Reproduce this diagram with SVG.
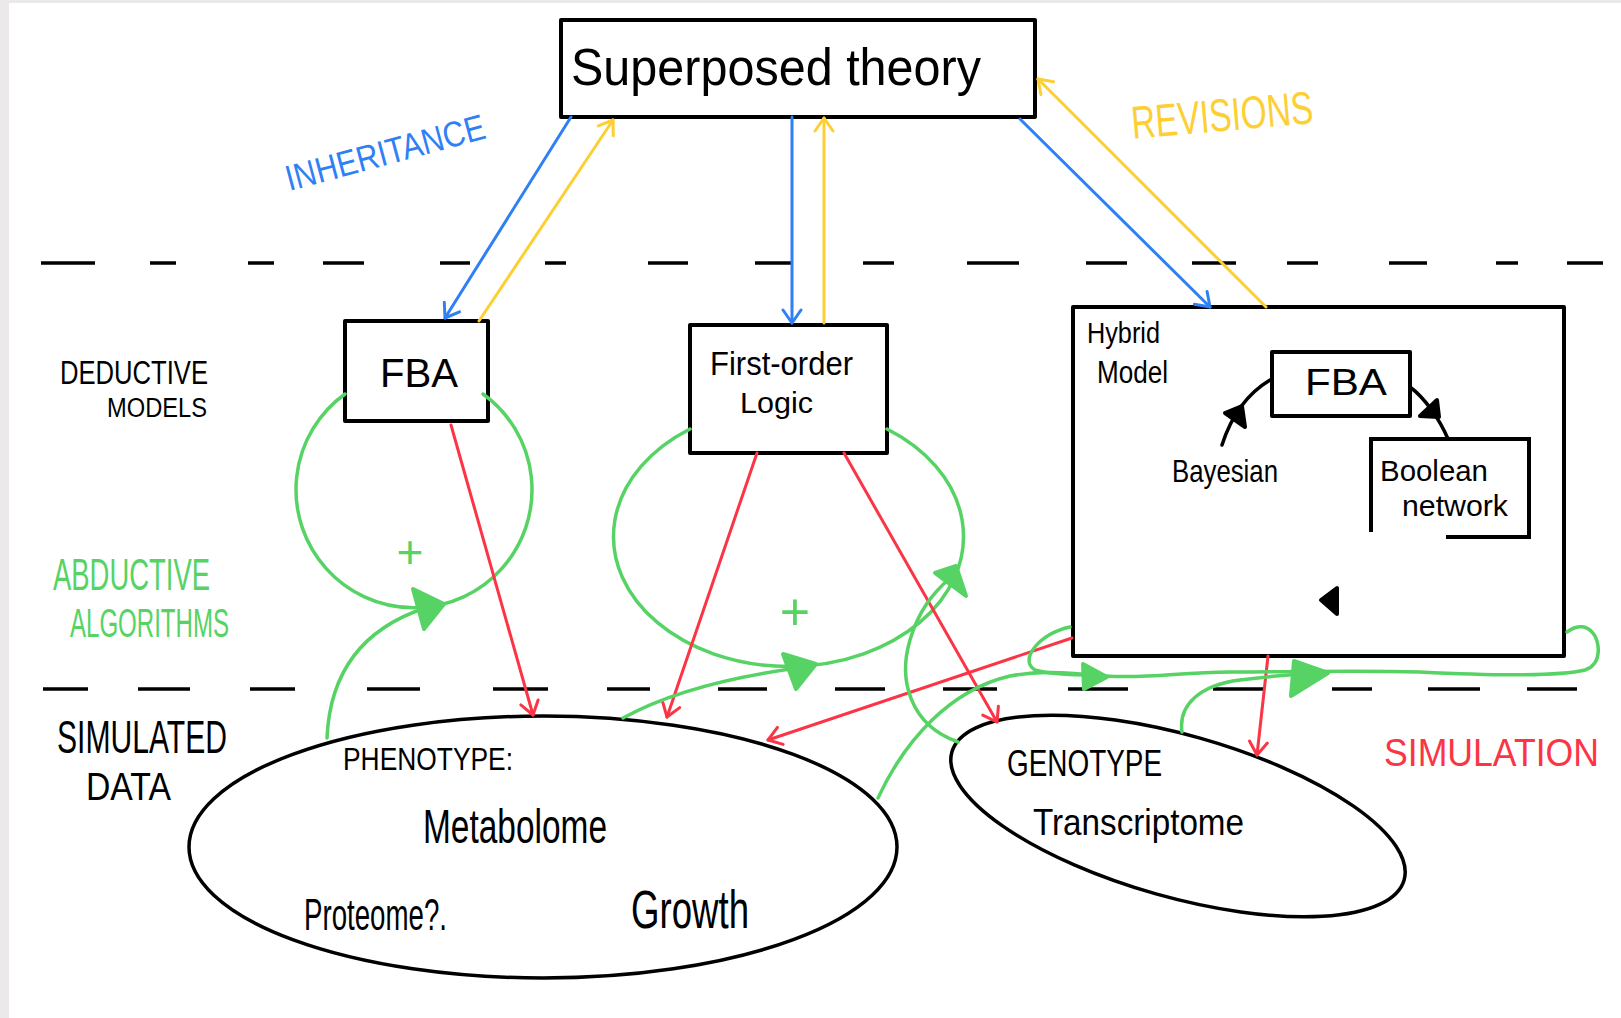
<svg xmlns="http://www.w3.org/2000/svg" width="1621" height="1018" viewBox="0 0 1621 1018">
<defs>
<style>
.box{fill:#fff;stroke:#000;stroke-width:4;stroke-linejoin:round}
.ell{fill:none;stroke:#000;stroke-width:3.5}
.t{font-family:"Liberation Sans",Arial,sans-serif;fill:#000}
.blue{stroke:#2f80f5;stroke-width:3;fill:none;stroke-linecap:round}
.yel{stroke:#fdcf33;stroke-width:3;fill:none;stroke-linecap:round}
.red{stroke:#fb3545;stroke-width:3;fill:none;stroke-linecap:round}
.grn{stroke:#56d364;stroke-width:3.5;fill:none;stroke-linecap:round}
.gtri{fill:#56d364;stroke:#56d364;stroke-width:4;stroke-linejoin:round}
.ktri{fill:#000;stroke:#000;stroke-width:4;stroke-linejoin:round}
.blk{stroke:#000;stroke-width:3.5;fill:none;stroke-linecap:round}
.dash{stroke:#000;stroke-width:3.5;fill:none}
</style>
<marker id="mb" markerUnits="userSpaceOnUse" markerWidth="30" markerHeight="30" viewBox="0 0 30 30" refX="15" refY="15" orient="auto"><path d="M2,6 L15,15 L2,24" fill="none" stroke="#2f80f5" stroke-width="3" stroke-linecap="round" stroke-linejoin="round"/></marker>
<marker id="my" markerUnits="userSpaceOnUse" markerWidth="30" markerHeight="30" viewBox="0 0 30 30" refX="15" refY="15" orient="auto"><path d="M2,6 L15,15 L2,24" fill="none" stroke="#fdcf33" stroke-width="3" stroke-linecap="round" stroke-linejoin="round"/></marker>
<marker id="mr" markerUnits="userSpaceOnUse" markerWidth="30" markerHeight="30" viewBox="0 0 30 30" refX="15" refY="15" orient="auto"><path d="M2,6 L15,15 L2,24" fill="none" stroke="#fb3545" stroke-width="3" stroke-linecap="round" stroke-linejoin="round"/></marker>
</defs>
<rect x="0" y="0" width="1621" height="1018" fill="#fff"/>
<rect x="0" y="0" width="9" height="1018" fill="#ece9ea"/>
<rect x="0" y="0" width="1621" height="3" fill="#ece9ea"/>

<g id="separators">
<path class="dash" d="M41,263H95M150,263H176M248,263H274M323,263H364M440,263H470M545,263H566M648,263H688M755,263H791M863,263H894M967,263H1019M1086,263H1127M1192,263H1236M1287,263H1318M1389,263H1427M1496,263H1518M1567,263H1603"/>
<path class="dash" d="M43,689H88M138,689H190M250,689H295M367,689H420M493,689H548M607,689H650M718,689H767M835,689H885M943,689H997M1068,689H1128M1213,689H1265M1332,689H1372M1428,689H1480M1527,689H1577"/>
</g>

<g id="labels">
<text class="t" x="60" y="384" font-size="33" textLength="148" lengthAdjust="spacingAndGlyphs">DEDUCTIVE</text>
<text class="t" x="107" y="417" font-size="27" textLength="100" lengthAdjust="spacingAndGlyphs">MODELS</text>
<text class="t" x="53" y="590" font-size="44" textLength="157" lengthAdjust="spacingAndGlyphs" style="fill:#56d364">ABDUCTIVE</text>
<text class="t" x="70" y="637" font-size="40" textLength="159" lengthAdjust="spacingAndGlyphs" style="fill:#56d364">ALGORITHMS</text>
<text class="t" x="57" y="753" font-size="46" textLength="170" lengthAdjust="spacingAndGlyphs">SIMULATED</text>
<text class="t" x="86" y="800" font-size="38" textLength="85" lengthAdjust="spacingAndGlyphs">DATA</text>
<text class="t" x="1384" y="766" font-size="38" textLength="215" lengthAdjust="spacingAndGlyphs" style="fill:#fb3545">SIMULATION</text>
<g transform="translate(385,152) rotate(-15)"><text class="t" x="0" y="13" font-size="36" text-anchor="middle" textLength="205" lengthAdjust="spacingAndGlyphs" style="fill:#2f80f5">INHERITANCE</text></g>
<g transform="translate(1222,114) rotate(-5)"><text class="t" x="0" y="17" font-size="46" text-anchor="middle" textLength="182" lengthAdjust="spacingAndGlyphs" style="fill:#fdcf33">REVISIONS</text></g>
<text class="t" x="410" y="568" font-size="46" text-anchor="middle" style="fill:#56d364">+</text>
<text class="t" x="795" y="630" font-size="52" text-anchor="middle" style="fill:#56d364">+</text>
</g>

<g id="superposed-theory">
<rect class="box" x="561" y="20" width="474" height="97"/>
<text class="t" x="571" y="85" font-size="52" textLength="410" lengthAdjust="spacingAndGlyphs">Superposed theory</text>
</g>

<g id="fba">
<rect class="box" x="345" y="321" width="143" height="100"/>
<text class="t" x="380" y="387" font-size="40" textLength="78" lengthAdjust="spacingAndGlyphs">FBA</text>
</g>

<g id="first-order-logic">
<rect class="box" x="690" y="325" width="197" height="128"/>
<text class="t" x="710" y="375" font-size="33" textLength="143" lengthAdjust="spacingAndGlyphs">First-order</text>
<text class="t" x="740" y="413" font-size="30" textLength="73" lengthAdjust="spacingAndGlyphs">Logic</text>
</g>

<g id="hybrid-model">
<rect class="box" x="1073" y="307" width="491" height="349"/>
<text class="t" x="1087" y="343" font-size="29" textLength="73" lengthAdjust="spacingAndGlyphs">Hybrid</text>
<text class="t" x="1097" y="383" font-size="31" textLength="71" lengthAdjust="spacingAndGlyphs">Model</text>
</g>

<g id="bayesian">
<text class="t" x="1172" y="482" font-size="32" textLength="106" lengthAdjust="spacingAndGlyphs">Bayesian</text>
</g>

<g id="hybrid-fba">
<rect class="box" x="1272" y="352" width="138" height="64"/>
<text class="t" x="1305" y="395" font-size="37" textLength="82" lengthAdjust="spacingAndGlyphs">FBA</text>
</g>

<g id="boolean-network">
<path class="blk" style="stroke-width:4;stroke-linecap:butt" d="M1371,532 L1371,439 L1529,439 L1529,537 L1446,537"/>
<text class="t" x="1380" y="481" font-size="30" textLength="108" lengthAdjust="spacingAndGlyphs">Boolean</text>
<text class="t" x="1402" y="516" font-size="30" textLength="106" lengthAdjust="spacingAndGlyphs">network</text>
</g>

<g id="phenotype">
<ellipse class="ell" cx="543" cy="847" rx="354" ry="131"/>
<text class="t" x="343" y="770" font-size="31" textLength="170" lengthAdjust="spacingAndGlyphs">PHENOTYPE:</text>
<text class="t" x="423" y="843" font-size="48" textLength="184" lengthAdjust="spacingAndGlyphs">Metabolome</text>
<text class="t" x="304" y="930" font-size="44" textLength="143" lengthAdjust="spacingAndGlyphs">Proteome?.</text>
<text class="t" x="631" y="928" font-size="54" textLength="118" lengthAdjust="spacingAndGlyphs">Growth</text>
</g>

<g id="genotype">
<ellipse class="ell" cx="1178" cy="816" rx="235" ry="81" transform="rotate(15.8 1178 816)"/>
<text class="t" x="1007" y="776" font-size="37" textLength="155" lengthAdjust="spacingAndGlyphs">GENOTYPE</text>
<text class="t" x="1033" y="835" font-size="36" textLength="211" lengthAdjust="spacingAndGlyphs">Transcriptome</text>
</g>

<g id="connectors">
<path class="blue" d="M571,117 L445,318" marker-end="url(#mb)"/>
<path class="yel" d="M479,321 L613,120" marker-end="url(#my)"/>
<path class="blue" d="M792,117 L792,323" marker-end="url(#mb)"/>
<path class="yel" d="M824,323 L824,118" marker-end="url(#my)"/>
<path class="blue" d="M1020,119 L1210,307" marker-end="url(#mb)"/>
<path class="yel" d="M1266,307 L1038,79" marker-end="url(#my)"/>

<path class="grn" d="M345,394 A118,118 0 1 0 483,394"/>
<path class="grn" d="M690,429 A175,130 0 1 0 887,429"/>

<path class="red" d="M451,425 L533,715" marker-end="url(#mr)"/>
<path class="red" d="M757,453 L667,717" marker-end="url(#mr)"/>
<path class="red" d="M844,453 L997,722" marker-end="url(#mr)"/>
<path class="red" d="M1072,638 L768,740" marker-end="url(#mr)"/>
<path class="red" d="M1268,656 L1257,755" marker-end="url(#mr)"/>

<path class="grn" d="M327,738 C330,670 365,628 425,608"/>
<polygon class="gtri" points="413,589 444,604 424,629"/>
<path class="grn" d="M623,718 C670,692 735,676 805,667"/>
<polygon class="gtri" points="783,654 816,664 796,689"/>
<path class="grn" d="M958,742 C910,725 898,680 910,640 C918,612 932,594 950,578"/>
<polygon class="gtri" points="935,573 956,566 966,596"/>
<path class="grn" d="M1070,627 C1040,633 1018,660 1035,670 C1050,675 1075,674 1100,676"/>
<path class="grn" d="M878,798 C905,740 950,690 1010,676 C1040,670 1070,672 1100,676"/>
<polygon class="gtri" points="1083,664 1107,677 1084,689"/>
<path class="grn" d="M1105,676 C1150,679 1180,672 1230,672 C1300,672 1350,670 1420,672 C1500,676 1560,676 1585,670 C1603,664 1600,640 1592,632 C1585,624 1575,626 1567,632"/>
<path class="grn" d="M1182,732 C1178,705 1200,685 1240,680 C1270,676 1300,674 1322,673"/>
<polygon class="gtri" points="1294,661 1328,673 1291,696"/>

<path class="blk" d="M1222,445 C1230,420 1245,395 1270,380"/>
<polygon class="ktri" points="1225,413 1242,406 1245,427"/>
<path class="blk" d="M1410,387 C1425,398 1440,420 1448,439"/>
<polygon class="ktri" points="1420,416 1437,400 1439,417"/>
<polygon class="ktri" points="1321,600 1337,588 1337,614"/>
</g>
</svg>
